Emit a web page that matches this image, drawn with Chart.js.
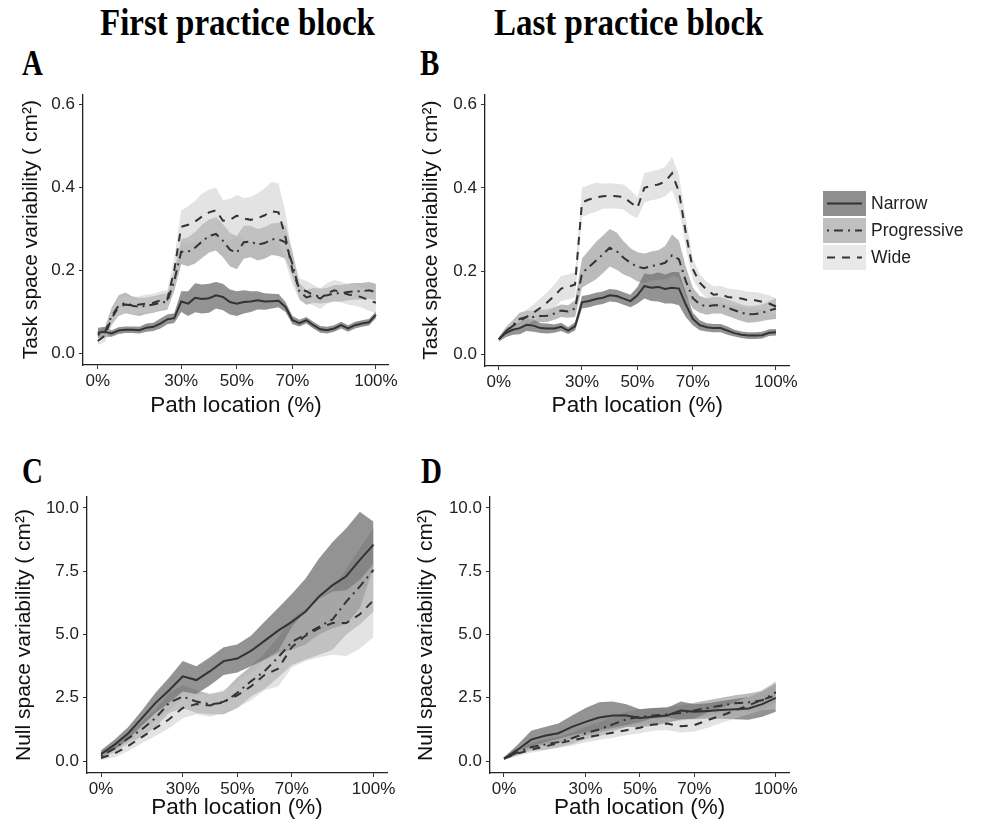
<!DOCTYPE html>
<html>
<head>
<meta charset="utf-8">
<script src="https://cdn.jsdelivr.net/npm/chart.js@4/dist/chart.umd.min.js"></script>
<style>
  body { margin: 0; background: #fff; width: 981px; height: 830px; position: relative; overflow: hidden; }
  .panel { position: absolute; }
  .head { position: absolute; font-family: "Liberation Serif", "Times New Roman", serif; font-weight: bold; color: #000; white-space: nowrap; transform-origin: left top; }
  .legend { position: absolute; left: 823px; top: 191px; font-family: "Liberation Sans", Arial, sans-serif; font-size: 17.5px; color: #222; }
  .legend .row { height: 25px; margin-bottom: 2px; display: flex; align-items: center; }
  .legend canvas { display: block; margin-right: 5px; }
</style>
</head>
<body>
<div class="head" style="left:100px;top:2px;font-size:33px;transform:scaleY(1.15)">First practice block</div>
<div class="head" style="left:494px;top:2px;font-size:33px;transform:scaleY(1.15)">Last practice block</div>
<div class="head" style="left:22px;top:44px;font-size:29px;transform:scaleY(1.2)">A</div>
<div class="head" style="left:420px;top:44px;font-size:29px;transform:scaleY(1.2)">B</div>
<div class="head" style="left:22px;top:452px;font-size:29px;transform:scaleY(1.2)">C</div>
<div class="head" style="left:421px;top:452px;font-size:29px;transform:scaleY(1.2)">D</div>

<div class="panel" style="left:0;top:80px"><canvas id="chartA" width="400" height="340"></canvas></div>
<div class="panel" style="left:400px;top:80px"><canvas id="chartB" width="400" height="340"></canvas></div>
<div class="panel" style="left:0;top:480px"><canvas id="chartC" width="400" height="350"></canvas></div>
<div class="panel" style="left:400px;top:480px"><canvas id="chartD" width="400" height="350"></canvas></div>

<div class="legend" id="legend"></div>

<script>
// path location (%), fine grid for task space, coarse grid for null space
var pathFine = [0, 2.5, 5, 7.5, 10, 12.5, 15, 17.5, 20, 22.5, 25, 27.5, 30, 32.5, 35, 37.5, 40, 42.5, 45, 47.5,
  50, 52.5, 55, 57.5, 60, 62.5, 65, 67.5, 70, 72.5, 75, 77.5, 80, 82.5, 85, 87.5, 90, 92.5, 95, 97.5, 100];
var pathCoarse = [0, 5, 10, 15, 20, 25, 30, 35, 40, 45, 50, 55, 60, 65, 70, 75, 80, 85, 90, 95, 100];
var xTicks = [0, 30, 50, 70, 100];
var taskTicks = [0, 0.2, 0.4, 0.6];
var nullTicks = [0, 2.5, 5, 7.5, 10];
var groups = ['Narrow', 'Progressive', 'Wide'];

// A: task space, first block (mean and half width of the band)
var taskFirstNarrow = [0.050,0.052,0.048,0.055,0.057,0.057,0.056,0.062,0.064,0.072,0.082,0.085,0.125,0.120,0.134,0.131,0.133,0.140,0.136,0.124,0.120,0.124,0.125,0.128,0.125,0.126,0.127,0.112,0.080,0.073,0.080,0.068,0.058,0.056,0.060,0.068,0.060,0.068,0.072,0.075,0.093];
var taskFirstNarrowSe = [0.012,0.012,0.008,0.008,0.008,0.008,0.008,0.010,0.010,0.012,0.012,0.012,0.025,0.030,0.035,0.035,0.035,0.032,0.032,0.030,0.030,0.028,0.025,0.022,0.020,0.018,0.016,0.012,0.010,0.008,0.008,0.008,0.008,0.008,0.008,0.008,0.008,0.008,0.008,0.008,0.008];
var taskFirstProg = [0.045,0.050,0.090,0.115,0.122,0.115,0.112,0.115,0.118,0.122,0.125,0.175,0.245,0.245,0.255,0.270,0.283,0.288,0.272,0.250,0.243,0.268,0.270,0.262,0.266,0.275,0.275,0.268,0.215,0.150,0.135,0.140,0.138,0.140,0.145,0.145,0.148,0.150,0.150,0.152,0.148];
var taskFirstProgSe = [0.010,0.012,0.020,0.025,0.025,0.022,0.022,0.020,0.020,0.020,0.020,0.025,0.030,0.035,0.038,0.040,0.040,0.040,0.040,0.040,0.040,0.040,0.038,0.038,0.038,0.038,0.040,0.040,0.030,0.020,0.018,0.018,0.018,0.018,0.020,0.020,0.020,0.020,0.020,0.020,0.020];
var taskFirstWide = [0.030,0.042,0.085,0.112,0.118,0.115,0.118,0.120,0.122,0.128,0.130,0.200,0.305,0.310,0.318,0.330,0.340,0.345,0.320,0.322,0.332,0.325,0.322,0.326,0.333,0.343,0.340,0.280,0.200,0.155,0.150,0.140,0.132,0.145,0.152,0.148,0.142,0.140,0.135,0.128,0.122];
var taskFirstWideSe = [0.010,0.015,0.020,0.020,0.020,0.020,0.020,0.022,0.022,0.022,0.022,0.030,0.040,0.045,0.050,0.055,0.055,0.055,0.050,0.050,0.050,0.050,0.055,0.060,0.065,0.070,0.070,0.060,0.035,0.025,0.025,0.025,0.025,0.025,0.025,0.025,0.025,0.025,0.025,0.025,0.025];

// B: task space, last block
var taskLastNarrow = [0.036,0.051,0.059,0.063,0.071,0.069,0.063,0.062,0.062,0.066,0.057,0.067,0.125,0.128,0.133,0.136,0.142,0.140,0.134,0.128,0.142,0.164,0.160,0.162,0.157,0.160,0.158,0.119,0.085,0.070,0.065,0.063,0.063,0.057,0.051,0.047,0.045,0.045,0.046,0.052,0.053];
var taskLastNarrowSe = [0.005,0.010,0.012,0.015,0.015,0.015,0.012,0.012,0.010,0.010,0.008,0.010,0.015,0.015,0.015,0.015,0.015,0.015,0.015,0.015,0.020,0.030,0.032,0.035,0.035,0.038,0.040,0.030,0.015,0.012,0.010,0.010,0.010,0.010,0.008,0.008,0.008,0.008,0.008,0.008,0.008];
var taskLastProg = [0.036,0.055,0.070,0.085,0.090,0.090,0.092,0.093,0.098,0.105,0.103,0.110,0.195,0.210,0.225,0.240,0.256,0.248,0.232,0.220,0.210,0.207,0.212,0.215,0.220,0.238,0.228,0.175,0.135,0.120,0.115,0.118,0.118,0.112,0.106,0.100,0.096,0.097,0.100,0.105,0.110];
var taskLastProgSe = [0.005,0.010,0.012,0.015,0.015,0.015,0.015,0.015,0.015,0.015,0.015,0.020,0.035,0.040,0.045,0.045,0.045,0.045,0.040,0.035,0.035,0.035,0.035,0.035,0.040,0.050,0.045,0.035,0.025,0.020,0.020,0.020,0.020,0.020,0.020,0.020,0.020,0.020,0.020,0.022,0.025];
var taskLastWide = [0.036,0.055,0.068,0.080,0.090,0.100,0.112,0.125,0.140,0.158,0.162,0.168,0.365,0.372,0.377,0.380,0.381,0.380,0.378,0.365,0.352,0.400,0.405,0.408,0.415,0.435,0.390,0.290,0.205,0.172,0.155,0.143,0.145,0.138,0.136,0.134,0.130,0.130,0.126,0.122,0.115];
var taskLastWideSe = [0.005,0.010,0.012,0.015,0.018,0.020,0.022,0.025,0.028,0.030,0.030,0.030,0.035,0.035,0.035,0.030,0.030,0.030,0.030,0.030,0.025,0.035,0.035,0.035,0.035,0.040,0.040,0.035,0.025,0.020,0.020,0.020,0.020,0.020,0.020,0.020,0.020,0.020,0.020,0.020,0.020];

// C: null space, first block
var nullFirstNarrow = [0.28,0.65,1.10,1.70,2.30,2.80,3.35,3.20,3.55,3.95,4.05,4.35,4.75,5.15,5.50,5.90,6.50,6.95,7.30,7.95,8.55];
var nullFirstNarrowSe = [0.15,0.20,0.25,0.30,0.40,0.50,0.60,0.55,0.55,0.55,0.55,0.60,0.75,0.90,1.10,1.30,1.50,1.70,1.90,1.90,0.90];
var nullFirstProg = [0.20,0.50,0.90,1.25,1.70,2.30,2.55,2.35,2.25,2.30,2.70,3.15,3.55,4.10,4.70,5.00,5.30,5.60,6.30,6.90,7.55];
var nullFirstProgSe = [0.10,0.15,0.20,0.30,0.35,0.40,0.45,0.45,0.40,0.45,0.60,0.60,0.70,0.80,0.90,1.00,1.10,1.20,1.30,1.50,1.65];
var nullFirstWide = [0.12,0.30,0.60,0.95,1.30,1.65,2.10,2.25,2.20,2.35,2.60,2.95,3.40,3.65,4.50,4.95,5.25,5.45,5.45,5.80,6.35];
var nullFirstWideSe = [0.10,0.15,0.20,0.25,0.30,0.35,0.40,0.40,0.45,0.45,0.50,0.55,0.60,0.70,0.80,1.00,1.15,1.25,1.30,1.35,1.45];

// D: null space, last block
var nullLastNarrow = [0.10,0.45,0.85,1.00,1.10,1.35,1.55,1.72,1.80,1.80,1.70,1.75,1.80,2.00,1.95,1.98,2.02,2.05,2.08,2.25,2.50];
var nullLastNarrowSe = [0.05,0.20,0.35,0.35,0.38,0.45,0.55,0.60,0.55,0.45,0.35,0.35,0.30,0.35,0.30,0.30,0.35,0.40,0.45,0.50,0.55];
var nullLastProg = [0.10,0.35,0.55,0.65,0.75,0.90,1.10,1.25,1.45,1.65,1.75,1.80,1.85,1.90,2.00,2.10,2.20,2.28,2.32,2.40,2.72];
var nullLastProgSe = [0.05,0.10,0.15,0.20,0.20,0.22,0.25,0.28,0.30,0.30,0.30,0.30,0.30,0.30,0.30,0.30,0.30,0.32,0.35,0.38,0.40];
var nullLastWide = [0.10,0.30,0.45,0.58,0.70,0.82,0.93,1.03,1.12,1.22,1.32,1.45,1.48,1.38,1.42,1.62,1.80,2.00,2.20,2.42,2.60];
var nullLastWideSe = [0.05,0.10,0.12,0.15,0.18,0.20,0.20,0.20,0.20,0.20,0.22,0.25,0.25,0.25,0.25,0.30,0.30,0.32,0.35,0.40,0.55];

var fills = ['rgba(40,40,40,0.5)', 'rgba(120,120,120,0.5)', 'rgba(200,200,200,0.5)'];
var dashes = [[], [2, 5, 9, 5], [8, 7]];
var lineColor = '#333333';
var font = '"Liberation Sans", Arial, sans-serif';

function pts(x, ys) {
  return ys.map(function (y, i) { return { x: x[i], y: y }; });
}

function buildDatasets(x, means, halves) {
  var sets = [];
  // bands: narrow on the bottom, wide on top (like ggplot draw order)
  means.forEach(function (m, g) {
    var lo = m.map(function (v, i) { return v - halves[g][i]; });
    var hi = m.map(function (v, i) { return v + halves[g][i]; });
    sets.push({ data: pts(x, lo), borderWidth: 0, pointRadius: 0, fill: false, order: 10 - g });
    sets.push({ data: pts(x, hi), borderWidth: 0, pointRadius: 0, fill: '-1', backgroundColor: fills[g], order: 10 - g });
  });
  means.forEach(function (m, g) {
    sets.push({
      label: groups[g], data: pts(x, m), borderColor: lineColor, borderWidth: 2,
      borderDash: dashes[g], pointRadius: 0, fill: false, order: 0
    });
  });
  return sets;
}

function makeChart(id, cfg) {
  var ctx = document.getElementById(id);
  return new Chart(ctx, {
    type: 'line',
    data: { datasets: buildDatasets(cfg.x, cfg.means, cfg.halves) },
    options: {
      responsive: false,
      animation: false,
      layout: { padding: { top: cfg.padTop, right: cfg.padRight, left: 0, bottom: 0 } },
      plugins: { legend: { display: false }, tooltip: { enabled: false } },
      elements: { line: { tension: 0 } },
      scales: {
        x: {
          type: 'linear', min: cfg.xMin, max: cfg.xMax,
          afterBuildTicks: function (s) { s.ticks = xTicks.map(function (v) { return { value: v }; }); },
          afterFit: function (s) { s.height = cfg.xHeight; },
          ticks: { callback: function (v) { return v + '%'; }, color: '#222', font: { family: font, size: 17 }, padding: 2, maxRotation: 0 },
          grid: { drawOnChartArea: false, drawTicks: true, tickLength: 4, color: '#333' },
          border: { display: true, color: '#222', width: 1.3 },
          title: { display: true, text: 'Path location (%)', color: '#111', font: { family: font, size: 22.5 }, padding: { top: 0, bottom: cfg.xTitlePad } }
        },
        y: {
          type: 'linear', min: cfg.yMin, max: cfg.yMax,
          afterBuildTicks: function (s) { s.ticks = cfg.yTicks.map(function (v) { return { value: v }; }); },
          afterFit: function (s) { s.width = cfg.yWidth; },
          ticks: { callback: function (v) { return v.toFixed(1); }, color: '#222', font: { family: font, size: 17 }, padding: 4 },
          grid: { drawOnChartArea: false, drawTicks: true, tickLength: 4, color: '#333' },
          border: { display: true, color: '#222', width: 1.3 },
          title: { display: true, text: cfg.yTitle, color: '#111', font: { family: font, size: 21 }, padding: { top: cfg.yTitlePad, bottom: 0 } }
        }
      }
    }
  });
}

var taskTitle = 'Task space variability ( cm\u00B2)';
var nullTitle = 'Null space variability ( cm\u00B2)';

makeChart('chartA', {
  x: pathFine, means: [taskFirstNarrow, taskFirstProg, taskFirstWide],
  halves: [taskFirstNarrowSe, taskFirstProgSe, taskFirstWideSe],
  xMin: -5.3, xMax: 104.7, yMin: -0.028, yMax: 0.625, yTicks: taskTicks,
  padTop: 10, padRight: 8, yWidth: 83, xHeight: 55, xTitlePad: 0.5, yTitlePad: 19, yTitle: taskTitle
});
makeChart('chartB', {
  x: pathFine, means: [taskLastNarrow, taskLastProg, taskLastWide],
  halves: [taskLastNarrowSe, taskLastProgSe, taskLastWideSe],
  xMin: -5.0, xMax: 104.9, yMin: -0.028, yMax: 0.625, yTicks: taskTicks,
  padTop: 10, padRight: 6, yWidth: 85, xHeight: 54, xTitlePad: 0.5, yTitlePad: 19, yTitle: taskTitle
});
makeChart('chartC', {
  x: pathCoarse, means: [nullFirstNarrow, nullFirstProg, nullFirstWide],
  halves: [nullFirstNarrowSe, nullFirstProgSe, nullFirstWideSe],
  xMin: -5.15, xMax: 104.95, yMin: -0.47, yMax: 10.43, yTicks: nullTicks,
  padTop: 17, padRight: 13, yWidth: 87, xHeight: 57, xTitlePad: 8.5, yTitlePad: 12, yTitle: nullTitle
});
makeChart('chartD', {
  x: pathCoarse, means: [nullLastNarrow, nullLastProg, nullLastWide],
  halves: [nullLastNarrowSe, nullLastProgSe, nullLastWideSe],
  xMin: -5.15, xMax: 104.95, yMin: -0.47, yMax: 10.43, yTicks: nullTicks,
  padTop: 17, padRight: 10, yWidth: 90, xHeight: 57, xTitlePad: 8.5, yTitlePad: 14, yTitle: nullTitle
});

// legend: band colour with the line style drawn across
var legend = document.getElementById('legend');
var keyFills = ['#8f8f8f', '#bfbfbf', '#e8e8e8'];
groups.forEach(function (name, g) {
  var row = document.createElement('div');
  row.className = 'row';
  var c = document.createElement('canvas');
  c.width = 43; c.height = 25;
  var k = c.getContext('2d');
  k.fillStyle = keyFills[g];
  k.fillRect(0, 0, 43, 25);
  k.strokeStyle = lineColor;
  k.lineWidth = 2;
  k.setLineDash(dashes[g]);
  k.beginPath();
  k.moveTo(4, 12.5);
  k.lineTo(39, 12.5);
  k.stroke();
  row.appendChild(c);
  var t = document.createElement('span');
  t.textContent = name;
  row.appendChild(t);
  legend.appendChild(row);
});
</script>
</body>
</html>
